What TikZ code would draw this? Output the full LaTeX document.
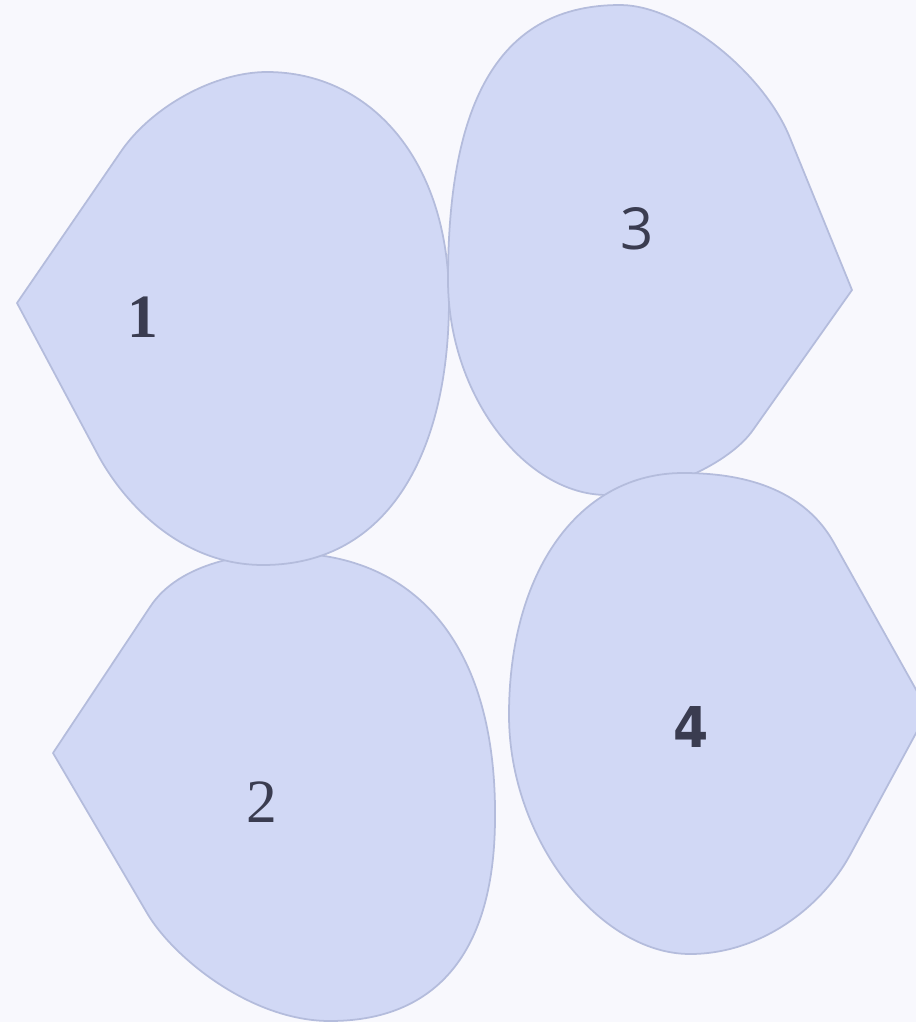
\documentclass[tikz,border=0pt]{standalone}
\usepackage{fontspec}
\newfontfamily\serifdigit{Liberation Serif}
\newfontfamily\sansdigit{Open Sans}
\newfontfamily\narrowdigit{DejaVu Sans Condensed}
\newcommand\digitsize[1]{\fontsize{#1}{#1}\selectfont}

\definecolor{pagebg}{HTML}{F8F8FD}
\definecolor{blobfill}{HTML}{D1D8F5}
\definecolor{blobline}{HTML}{B4BCDC}
\definecolor{digitcol}{HTML}{3A3C50}

\begin{document}
\begin{tikzpicture}[x=0.02cm,y=-0.02cm,
  blob/.style={fill=blobfill, draw=blobline, line width=1pt, line join=round},
  every node/.style={text=digitcol, inner sep=0pt}]

\fill[pagebg] (0,0) rectangle (916,1022);
\useasboundingbox (0,0) rectangle (916,1022);
\clip (0,0) rectangle (916,1022);

% lower left
\draw[blob] (53,753) -- (150,607) .. controls (180,561) and (250,553) .. (285,553)
  .. controls (420,553) and (497,650) .. (495,820)
  .. controls (494,960) and (430,1021) .. (330,1021)
  .. controls (250,1021) and (172,956) .. (147,913) -- cycle;

% upper left
\draw[blob] (17,303) -- (122,150) .. controls (153,106) and (215,72) .. (267,72)
  .. controls (370,72) and (449,160) .. (449,300)
  .. controls (449,450) and (390,565) .. (263,565)
  .. controls (177,565) and (120,497) .. (97,453) -- cycle;

% upper right
\draw[blob] (852,290) -- (753,430) .. controls (730,463) and (662,495) .. (607,495)
  .. controls (525,495) and (448,395) .. (448,280)
  .. controls (448,100) and (500,5) .. (620,5)
  .. controls (680,5) and (764,73) .. (790,138) -- cycle;

% lower right
\draw[blob] (928,711) -- (850,855) .. controls (821,908) and (760,954) .. (690,954)
  .. controls (600,954) and (509,840) .. (509,715)
  .. controls (509,570) and (580,473) .. (683,473)
  .. controls (730,473) and (800,482) .. (834,543) -- cycle;

\node (one) at (143,317) {\serifdigit\digitsize{35}\bfseries 1};
\node (two) at (262,802) {\serifdigit\digitsize{35}2};
\node (three) at (637,229) {\sansdigit\digitsize{33}3};
\node (four) at (691,727) {\narrowdigit\digitsize{32}\bfseries 4};
\end{tikzpicture}
\end{document}
